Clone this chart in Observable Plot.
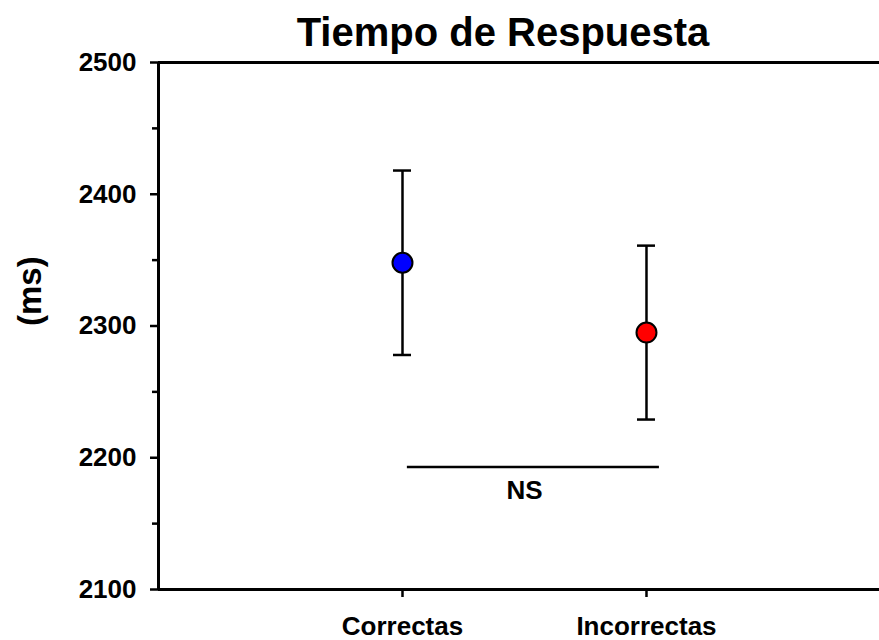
<!DOCTYPE html>
<html><head><meta charset="utf-8">
<script src="https://cdn.jsdelivr.net/npm/d3@7"></script>
<script src="https://cdn.jsdelivr.net/npm/@observablehq/plot@0.6"></script>
<style>body{margin:0;background:#fff}</style>
</head><body><div id="chart"></div>
<script>
const title = "Tiempo de Respuesta";
const yLabel = "(ms)";
const categories = ["Correctas", "Incorrectas"];
const means = [2348, 2295];
const lower = [2278, 2229];
const upper = [2418, 2361];
const colors = ["#0000ff", "#ff0000"];
const yMajorTicks = [2100, 2200, 2300, 2400, 2500];
const yMinorTicks = [2150, 2250, 2350, 2450];
const yDomain = [2100, 2500];
const nsLabel = "NS";
const nsFrom = 1.02, nsTo = 2.053, nsY = 2193;
const nsLabelX = 1.5, nsLabelY = 2175;

const data = categories.map((c, i) => ({x: i + 1, cat: c, mean: means[i], lo: lower[i], hi: upper[i], color: colors[i]}));
const font = "Liberation Sans, Arial, Helvetica, sans-serif";

const chart = Plot.plot({
  width: 879, height: 640,
  marginLeft: 158, marginRight: 0, marginTop: 62, marginBottom: 51,
  style: {fontFamily: font, background: "#fff", color: "#000"},
  x: {domain: [0, 2.955], axis: null},
  y: {domain: yDomain, axis: null},
  color: {type: "identity"},
  marks: [
    Plot.axisY({ticks: yMajorTicks, tickFormat: d => String(d), tickSize: 8, tickPadding: 14, fontSize: 26, fontWeight: "bold", strokeWidth: 2.5, label: null, fill: "#000"}),
    Plot.axisY({ticks: yMinorTicks, tickSize: 6, tickFormat: () => "", strokeWidth: 2.5, label: null}),
    Plot.axisX({ticks: [1, 2], tickFormat: i => categories[i - 1], tickSize: 8, tickPadding: 19, fontSize: 26, fontWeight: "bold", strokeWidth: 2.5, label: null, fill: "#000"}),
    Plot.ruleX([0], {y1: yDomain[0], y2: yDomain[1], strokeWidth: 3}),
    Plot.ruleY(yDomain, {strokeWidth: 3}),
    Plot.ruleX(data, {x: "x", y1: "lo", y2: "hi", strokeWidth: 2.5}),
    Plot.ruleY(data, {y: "lo", x1: "x", x2: "x", insetLeft: -9, insetRight: -9, strokeWidth: 2.5}),
    Plot.ruleY(data, {y: "hi", x1: "x", x2: "x", insetLeft: -9, insetRight: -9, strokeWidth: 2.5}),
    Plot.dot(data, {x: "x", y: "mean", r: 10, fill: "color", stroke: "#000", strokeWidth: 2}),
    Plot.ruleY([nsY], {x1: nsFrom, x2: nsTo, strokeWidth: 2.5}),
    Plot.text([nsLabel], {x: nsLabelX, y: nsLabelY, text: d => d, fontSize: 26, fontWeight: "bold", fill: "#000"}),
    Plot.text([title], {frameAnchor: "top", text: d => d, dx: -16, dy: -17, lineAnchor: "bottom", fontSize: 40, fontWeight: "bold", fill: "#000"}),
    Plot.text([yLabel], {frameAnchor: "left", text: d => d, dx: -128, rotate: -90, fontSize: 33, fontWeight: "bold", fill: "#000"})
  ]
});
document.getElementById("chart").appendChild(chart);
</script>
</body></html>
